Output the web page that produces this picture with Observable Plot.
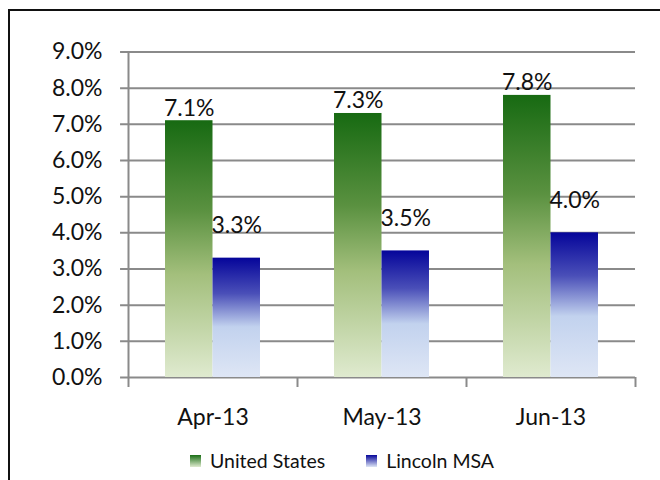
<!DOCTYPE html>
<html>
<head>
<meta charset="utf-8">
<script src="https://cdn.jsdelivr.net/npm/d3@7"></script>
<script src="https://cdn.jsdelivr.net/npm/@observablehq/plot@0.6"></script>
<style>
  html, body { margin: 0; padding: 0; background: #fff; width: 660px; height: 480px; overflow: hidden; font-family: Lato, "Open Sans", sans-serif; }
  #frame { position: absolute; left: 8px; top: 9px; width: 700px; height: 520px; border: 2px solid #111; box-sizing: border-box; pointer-events: none; z-index: 5; }
  #chart { position: absolute; left: 0; top: 0; }
  #legend { position: absolute; left: 190px; top: 449px; display: flex; align-items: center; font-size: 19.5px; color: #111; }
  .item { display: flex; align-items: center; }
  .sw { width: 11px; height: 12px; margin-right: 9px; }
</style>
</head>
<body>
<div id="chart"></div>
<div id="legend"></div>
<div id="frame"></div>
<script>
const months = ["Apr-13", "May-13", "Jun-13"];
const series = ["United States", "Lincoln MSA"];
const usValues = [7.1, 7.3, 7.8];
const lincolnValues = [3.3, 3.5, 4.0];
const yTicks = [0, 1, 2, 3, 4, 5, 6, 7, 8, 9];

const barW = 0.281;
const rows = [];
months.forEach((m, i) => {
  rows.push({month: m, i, series: series[0], value: usValues[i], x1: i + 0.5 - barW, x2: i + 0.5});
  rows.push({month: m, i, series: series[1], value: lincolnValues[i], x1: i + 0.5, x2: i + 0.5 + barW});
});
const us = rows.filter(d => d.series === series[0]);
const li = rows.filter(d => d.series === series[1]);

const gridColor = "#8a8a8a";
const textColor = "#111";
const fs = 23;

const plot = Plot.plot({
  width: 660,
  height: 440,
  marginLeft: 128,
  marginRight: 25,
  marginTop: 51.5,
  marginBottom: 63,
  style: {fontFamily: "Lato, 'Open Sans', sans-serif", color: textColor, background: "transparent"},
  x: {type: "linear", domain: [0, months.length], axis: null, label: null},
  y: {domain: [0, 9], axis: null, label: null},
  marks: [
    Plot.gridY(yTicks, {stroke: gridColor, strokeOpacity: 1, strokeWidth: 2, x1: -0.047, x2: months.length}),
    Plot.ruleX([0], {y1: 0, y2: 9, stroke: gridColor, strokeWidth: 2}),
    Plot.axisX([0, 1, 2, 3], {tickSize: 10, tickFormat: () => "", label: null, stroke: gridColor, strokeWidth: 2, strokeOpacity: 1}),
    Plot.axisX(months.map((m, i) => i + 0.5), {tickSize: 0, tickPadding: 31, label: null, tickFormat: v => months[Math.round(v - 0.5)], fontSize: fs, fill: textColor}),
    Plot.axisY(yTicks, {tickSize: 0, tickPadding: 26, label: null, tickFormat: d => d.toFixed(1) + "%", fontSize: fs, fill: textColor}),
    Plot.rectY(us, {x1: "x1", x2: "x2", y1: 0, y2: "value", fill: "url(#gUS)"}),
    Plot.rectY(li, {x1: "x1", x2: "x2", y1: 0, y2: "value", fill: "url(#gLI)"}),
    Plot.text(us, {x: d => (d.x1 + d.x2) / 2, y: "value", text: d => d.value.toFixed(1) + "%", lineAnchor: "bottom", dy: -5, fontSize: fs, fill: textColor}),
    Plot.text(li, {x: d => (d.x1 + d.x2) / 2, y: "value", text: d => d.value.toFixed(1) + "%", lineAnchor: "bottom", dy: -25, fontSize: fs, fill: textColor})
  ]
});

const svg = d3.select(plot);
const defs = svg.insert("defs", ":first-child");
function grad(id, stops) {
  const g = defs.append("linearGradient").attr("id", id).attr("x1", 0).attr("y1", 0).attr("x2", 0).attr("y2", 1);
  stops.forEach(([o, c]) => g.append("stop").attr("offset", o).attr("stop-color", c));
}
grad("gUS", [[0, "#176a12"], [0.35, "#5a9140"], [0.6, "#a3bf7c"], [1, "#dfeacf"]]);
grad("gLI", [[0, "#05059a"], [0.3, "#4a4fb8"], [0.58, "#c2d2ee"], [1, "#dee6f5"]]);

document.getElementById("chart").appendChild(plot);

const legend = d3.select("#legend");
const swatches = ["linear-gradient(#1a6e15, #dfeacf)", "linear-gradient(#06069a, #dee6f5)"];
series.forEach((s, k) => {
  const it = legend.append("div").attr("class", "item").style("margin-right", k === 0 ? "41px" : "0");
  it.append("div").attr("class", "sw").style("background", swatches[k]);
  it.append("span").text(s);
});
</script>
</body>
</html>
